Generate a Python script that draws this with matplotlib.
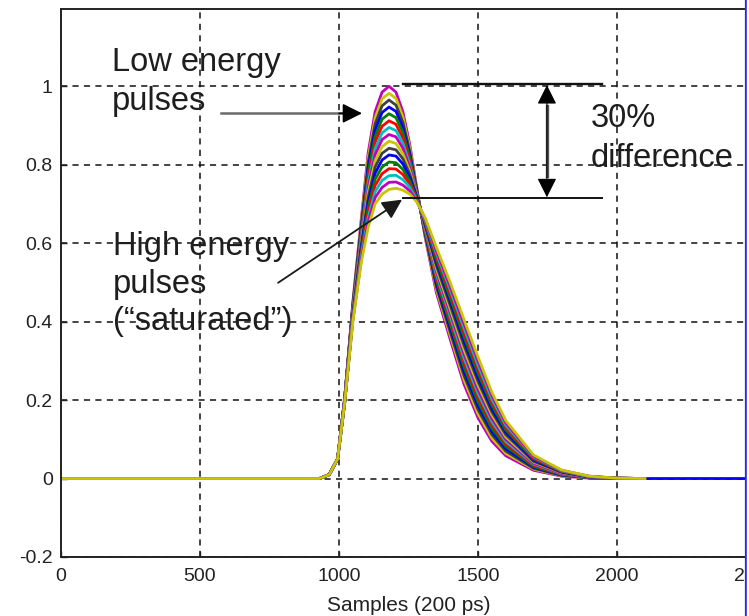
import matplotlib
matplotlib.use('Agg')
import matplotlib.pyplot as plt
from matplotlib.lines import Line2D
from matplotlib.ticker import FormatStrFormatter

# --- DATA ---
# sample positions where each pulse was read
sample_x = [0, 930, 965, 995, 1020, 1050, 1080, 1105, 1130, 1155, 1180, 1205, 1230, 1255,
            1280, 1310, 1350, 1400, 1450, 1500, 1550, 1600, 1700, 1800, 1900, 2000, 2100]

# one row per pulse, from lowest energy (peak 1.0) to highest energy (peak ~0.74)
pulses = [
    [0, 0, 0.01, 0.05, 0.20, 0.450, 0.660, 0.830, 0.935, 0.985, 1.000, 0.985, 0.935, 0.850, 0.740, 0.615, 0.475, 0.355, 0.240, 0.155, 0.095, 0.058, 0.021, 0.006, 0.001, 0, 0],
    [0, 0, 0.01, 0.05, 0.20, 0.447, 0.653, 0.817, 0.919, 0.968, 0.982, 0.969, 0.922, 0.842, 0.738, 0.618, 0.483, 0.365, 0.251, 0.165, 0.103, 0.064, 0.024, 0.007, 0.001, 0, 0],
    [0, 0, 0.01, 0.05, 0.20, 0.443, 0.645, 0.805, 0.904, 0.950, 0.965, 0.952, 0.908, 0.833, 0.735, 0.622, 0.490, 0.374, 0.262, 0.176, 0.112, 0.070, 0.026, 0.008, 0.002, 0, 0],
    [0, 0, 0.01, 0.05, 0.20, 0.440, 0.638, 0.792, 0.888, 0.933, 0.947, 0.936, 0.895, 0.825, 0.733, 0.625, 0.498, 0.384, 0.273, 0.186, 0.120, 0.076, 0.029, 0.009, 0.002, 0, 0],
    [0, 0, 0.01, 0.05, 0.20, 0.437, 0.631, 0.779, 0.872, 0.916, 0.930, 0.920, 0.882, 0.817, 0.731, 0.628, 0.506, 0.394, 0.284, 0.196, 0.128, 0.082, 0.031, 0.010, 0.002, 0, 0],
    [0, 0, 0.01, 0.05, 0.20, 0.433, 0.623, 0.767, 0.857, 0.898, 0.912, 0.903, 0.868, 0.808, 0.728, 0.632, 0.513, 0.403, 0.295, 0.207, 0.137, 0.088, 0.034, 0.011, 0.003, 0, 0],
    [0, 0, 0.01, 0.05, 0.20, 0.430, 0.616, 0.754, 0.841, 0.881, 0.895, 0.887, 0.855, 0.800, 0.726, 0.635, 0.521, 0.413, 0.306, 0.217, 0.145, 0.094, 0.037, 0.012, 0.003, 0, 0],
    [0, 0, 0.01, 0.05, 0.20, 0.427, 0.609, 0.741, 0.825, 0.864, 0.877, 0.871, 0.842, 0.792, 0.724, 0.638, 0.529, 0.423, 0.317, 0.227, 0.153, 0.100, 0.039, 0.013, 0.003, 0, 0],
    [0, 0, 0.01, 0.05, 0.19, 0.423, 0.601, 0.729, 0.810, 0.846, 0.860, 0.854, 0.828, 0.783, 0.721, 0.642, 0.536, 0.432, 0.328, 0.238, 0.162, 0.106, 0.042, 0.015, 0.004, 0.001, 0],
    [0, 0, 0.01, 0.05, 0.19, 0.420, 0.594, 0.716, 0.794, 0.829, 0.842, 0.838, 0.815, 0.775, 0.719, 0.645, 0.544, 0.442, 0.339, 0.248, 0.170, 0.112, 0.044, 0.016, 0.004, 0.001, 0],
    [0, 0, 0.01, 0.05, 0.19, 0.417, 0.587, 0.703, 0.778, 0.812, 0.825, 0.822, 0.802, 0.767, 0.717, 0.648, 0.552, 0.452, 0.350, 0.258, 0.178, 0.118, 0.047, 0.017, 0.004, 0.001, 0],
    [0, 0, 0.01, 0.05, 0.19, 0.413, 0.579, 0.691, 0.763, 0.794, 0.807, 0.805, 0.788, 0.758, 0.714, 0.652, 0.559, 0.461, 0.361, 0.269, 0.187, 0.124, 0.050, 0.018, 0.005, 0.001, 0],
    [0, 0, 0.01, 0.05, 0.19, 0.410, 0.572, 0.678, 0.747, 0.777, 0.790, 0.789, 0.775, 0.750, 0.712, 0.655, 0.567, 0.471, 0.372, 0.279, 0.195, 0.130, 0.052, 0.019, 0.005, 0.001, 0],
    [0, 0, 0.01, 0.05, 0.19, 0.407, 0.565, 0.665, 0.731, 0.760, 0.772, 0.773, 0.762, 0.742, 0.710, 0.658, 0.575, 0.481, 0.383, 0.289, 0.203, 0.136, 0.055, 0.020, 0.005, 0.001, 0],
    [0, 0, 0.01, 0.05, 0.19, 0.403, 0.557, 0.653, 0.716, 0.742, 0.755, 0.756, 0.748, 0.733, 0.707, 0.662, 0.582, 0.490, 0.394, 0.300, 0.212, 0.142, 0.057, 0.021, 0.006, 0.001, 0],
    [0, 0, 0.01, 0.05, 0.19, 0.400, 0.550, 0.640, 0.700, 0.725, 0.737, 0.740, 0.735, 0.725, 0.705, 0.665, 0.590, 0.500, 0.405, 0.310, 0.220, 0.148, 0.060, 0.022, 0.006, 0.001, 0],
]

# one blue trace keeps going flat to the end of the record
long_trace = 3
record_end = 2500

x_ticks = [0, 500, 1000, 1500, 2000, 2500]
y_ticks = [-0.2, 0, 0.2, 0.4, 0.6, 0.8, 1.0]

# --- STYLE ---
MATLAB = {
    'b': (0, 0, 1), 'g': (0, 0.5, 0), 'r': (1, 0, 0), 'c': (0, 0.75, 0.75),
    'm': (0.75, 0, 0.75), 'y': (0.78, 0.78, 0), 'k': (0.25, 0.25, 0.25),
}
CYCLE = ['m', 'y', 'k', 'b', 'g', 'r', 'c']
TXT = '#1e1e1e'

plt.rcParams['font.family'] = ['Liberation Sans', 'DejaVu Sans']
plt.rcParams['axes.unicode_minus'] = False

fig = plt.figure(figsize=(7.49, 6.16), dpi=100)
ax = fig.add_axes([0.0814, 0.0958, 0.9279, 0.8896])

for i, row in enumerate(pulses):
    xs = list(sample_x)
    ys = list(row)
    if i == long_trace:
        xs.append(record_end)
        ys.append(0.0)
    ax.plot(xs, ys, color=MATLAB[CYCLE[i % len(CYCLE)]], lw=2.0, zorder=2,
            solid_joinstyle='round')

ax.set_xlim(0, 2500)
ax.set_ylim(-0.2, 1.197)
ax.set_xticks(x_ticks)
ax.set_yticks(y_ticks)
ax.yaxis.set_major_formatter(FormatStrFormatter('%g'))
ax.tick_params(direction='in', length=4, width=1, labelsize=14, colors='#222222')
ax.tick_params(axis='x', pad=8)
ax.tick_params(axis='y', pad=6)
ax.grid(True, color='#111111', linestyle=(0, (4, 3.5)), lw=1.1)
for s in ax.spines.values():
    s.set_linewidth(1.4)
    s.set_color('#222222')
ax.set_xlabel('Samples (200 ps)', fontsize=15, color='#222222', labelpad=8)

# --- ANNOTATIONS ---
tk = dict(fontsize=23.5, color=TXT, va='baseline', ha='left', zorder=5)
ax.text(183, 1.038, 'Low energy', **tk)
ax.text(183, 0.939, 'pulses', **tk)
ax.text(187, 0.570, 'High energy', **tk)
ax.text(187, 0.473, 'pulses', **tk)
ax.text(187, 0.379, '(\u201csaturated\u201d)', **tk)
ax.text(1906, 0.895, '30%', **tk)
ax.text(1906, 0.795, 'difference', **tk)

head = '-|>,head_length=0.6,head_width=0.3'
# low energy arrow: grey shaft, black head
ax.plot([576, 1040], [0.931, 0.931], color='#6a6a6a', lw=1.8, zorder=6)
ax.annotate('', xy=(1083, 0.931), xytext=(1000, 0.931), zorder=7,
            arrowprops=dict(arrowstyle=head, color='black', lw=1.2,
                            mutation_scale=20, shrinkA=0, shrinkB=0))
ax.annotate('', xy=(1227, 0.711), xytext=(781, 0.499), zorder=6,
            arrowprops=dict(arrowstyle=head, color='#1a1a1a', lw=1.3,
                            mutation_scale=20, shrinkA=0, shrinkB=0))

ax.plot([1230, 1946], [1.005, 1.005], color='#111111', lw=1.7, zorder=6)
ax.plot([1230, 1946], [0.715, 0.715], color='#111111', lw=1.4, zorder=6)
# 30% span: grey shaft, black heads
ax.plot([1748, 1748], [0.95, 0.77], color='#555555', lw=2.4, zorder=6)
ax.annotate('', xy=(1748, 1.003), xytext=(1748, 0.717), zorder=7,
            arrowprops=dict(arrowstyle='<|-|>,head_length=0.6,head_width=0.3',
                            color='black', lw=0.8, mutation_scale=20,
                            shrinkA=0, shrinkB=0))

# blue frame edge at the right of the crop
fig.add_artist(Line2D([745.5 / 749, 745.5 / 749], [0, 1], color='#2a2ae0', lw=1.6))
fig.add_artist(plt.Rectangle((747 / 749, 0), 2 / 749, 1, color='white', zorder=10))

fig.savefig('out.png', dpi=100)
